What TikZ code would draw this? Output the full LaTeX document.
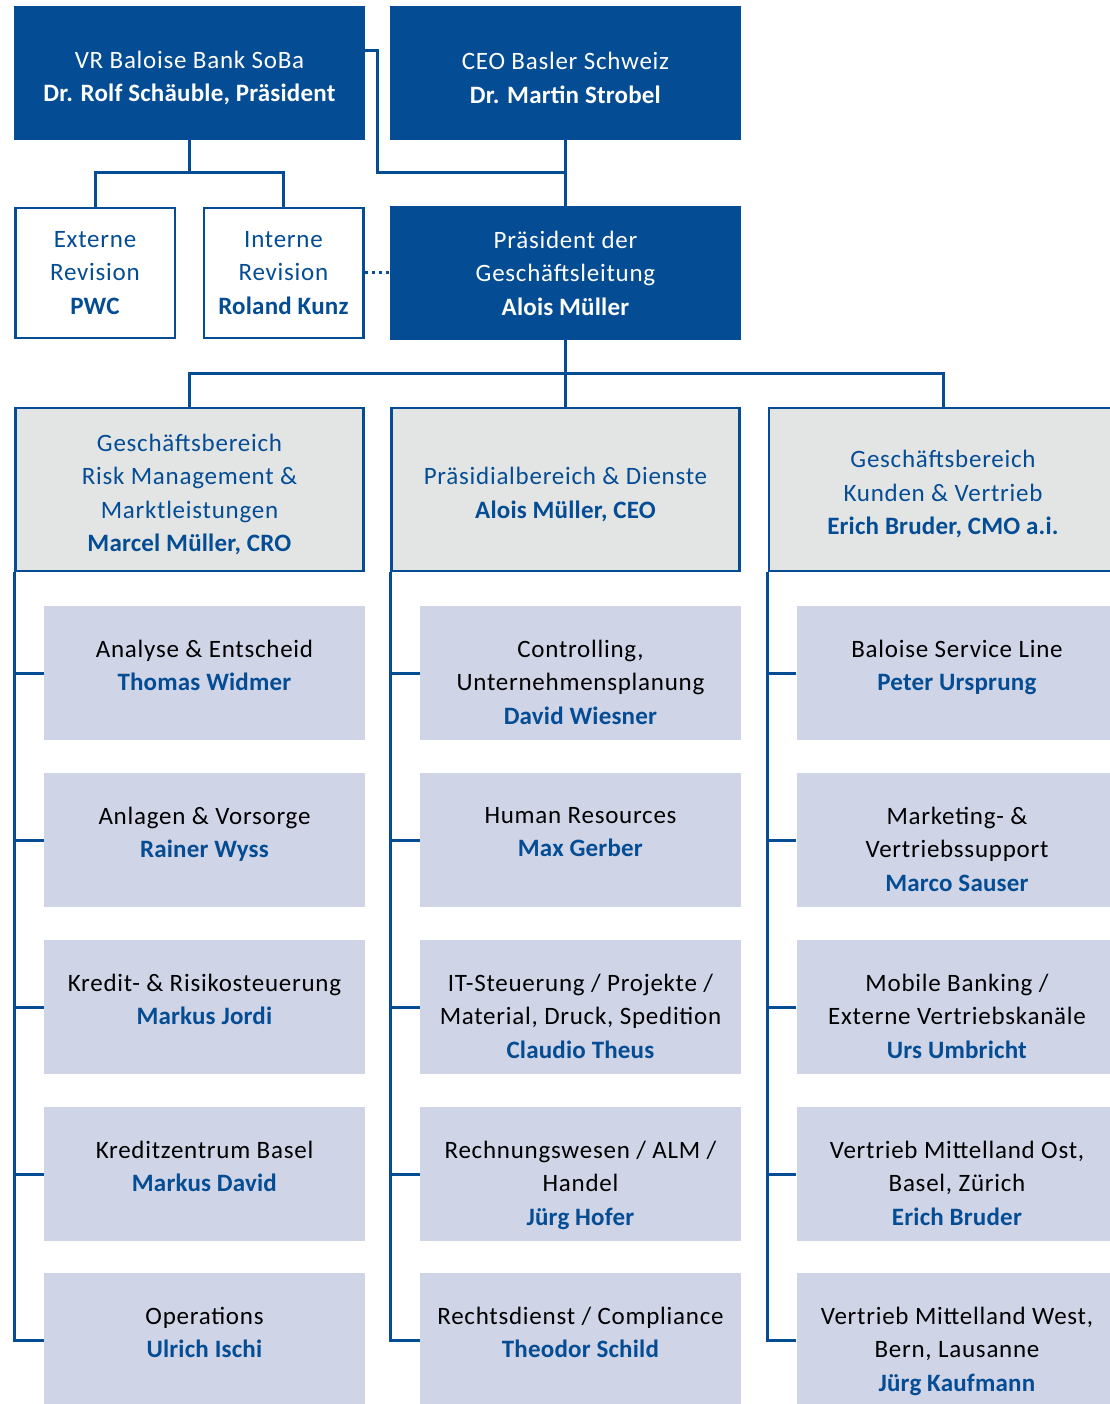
\documentclass[tikz,border=0pt]{standalone}
\usepackage{fontspec}
\setmainfont{Carlito}[LetterSpace=3.0,BoldFeatures={LetterSpace=0.8}]
\usetikzlibrary{positioning}
\definecolor{navy}{RGB}{4,76,147}
\definecolor{unitfill}{RGB}{207,212,231}
\definecolor{divfill}{RGB}{227,229,229}
\newcommand{\pname}[1]{\textcolor{navy}{\textbf{#1}}}
\newcommand{\lift}{\rule{0pt}{27pt}}

\tikzset{
  head/.style={fill=navy,text=white,minimum width=351pt,minimum height=134pt,inner sep=0pt,align=center},
  rev/.style={draw=navy,line width=2.5pt,fill=white,text=navy,minimum width=159.5pt,minimum height=129.5pt,inner sep=0pt,align=center},
  divbox/.style={draw=navy,line width=2.5pt,fill=divfill,text=navy,minimum width=348pt,minimum height=163pt,inner sep=0pt,align=center},
  unittext/.style={anchor=north,yshift=-34pt,align=center,inner sep=0pt},
  unit/.style={fill=unitfill,minimum width=321pt,minimum height=134pt,inner sep=0pt,label={[unittext]north:{#1}}},
  conn/.style={draw=navy,line width=3pt}
}

\begin{document}
\begin{tikzpicture}[x=1pt,y=-1pt,font=\fontsize{25}{33.5}\selectfont]
  \useasboundingbox (0,0) rectangle (1109,1404);

  % top level
  \node[head] (vr) at (189.5,73) {\lift VR Baloise Bank SoBa\\\textbf{Dr. Rolf Schäuble, Präsident}};
  \node[head] (ceo) at (565.5,73) {\lift CEO Basler Schweiz\\\textbf{Dr. Martin Strobel}};
  \node[rev] (ext) at (95,273) {Externe\\Revision\\\textbf{PWC}};
  \node[rev] (int) at (283.5,273) {Interne\\Revision\\\textbf{Roland Kunz}};
  \node[head] (pgl) at (565.5,273) {Präsident der\\Geschäftsleitung\\\textbf{Alois Müller}};

  \coordinate (jr) at (189.5,173);
  \coordinate (jv) at (377,173);
  \coordinate (jc) at (565.5,173);
  \coordinate (jd) at (565.5,373);

  \draw[conn] (vr.south) -- (jr);
  \draw[conn] (ext.north) |- (jr) -| (int.north);
  \draw[conn] ([yshift=-45pt]vr.north east) -| (jv) -- (jc);
  \draw[conn] (ceo.south) -- (pgl.north);
  \draw[conn,dash pattern=on 3pt off 4pt] (int.east) -- (pgl.west);

  % divisions
  \node[divbox] (rm) at (189.5,489.5) {\lift Geschäftsbereich\\Risk Management \&\\Marktleistungen\\\textbf{Marcel Müller, CRO}};
  \node[divbox] (pd) at (565.5,489.5) {\lift Präsidialbereich \& Dienste\\\textbf{Alois Müller, CEO}};
  \node[divbox] (kv) at (943,489.5) {\lift Geschäftsbereich\\Kunden \& Vertrieb\\\textbf{Erich Bruder, CMO a.i.}};

  \draw[conn] (pgl.south) -- (pd.north);
  \draw[conn] (rm.north) |- (jd) -| (kv.north);

  % units risk management
  \node[unit={Analyse \& Entscheid\\\pname{Thomas Widmer}}] (a1) at (204.5,673) {};
  \node[unit={Anlagen \& Vorsorge\\\pname{Rainer Wyss}}] (a2) at (204.5,840) {};
  \node[unit={Kredit- \& Risikosteuerung\\\pname{Markus Jordi}}] (a3) at (204.5,1007) {};
  \node[unit={Kreditzentrum Basel\\\pname{Markus David}}] (a4) at (204.5,1174) {};
  \node[unit={Operations\\\pname{Ulrich Ischi}}] (a5) at (204.5,1340) {};

  % units praesidialbereich
  \node[unit={Controlling,\\Unternehmensplanung\\\pname{David Wiesner}}] (b1) at (580.5,673) {};
  \node[unit={Human Resources\\\pname{Max Gerber}}] (b2) at (580.5,840) {};
  \node[unit={IT-Steuerung / Projekte /\\Material, Druck, Spedition\\\pname{Claudio Theus}}] (b3) at (580.5,1007) {};
  \node[unit={Rechnungswesen / ALM /\\Handel\\\pname{Jürg Hofer}}] (b4) at (580.5,1174) {};
  \node[unit={Rechtsdienst / Compliance\\\pname{Theodor Schild}}] (b5) at (580.5,1340) {};

  % units kunden
  \node[unit={Baloise Service Line\\\pname{Peter Ursprung}}] (c1) at (957,673) {};
  \node[unit={Marketing- \&\\Vertriebssupport\\\pname{Marco Sauser}}] (c2) at (957,840) {};
  \node[unit={Mobile Banking /\\Externe Vertriebskanäle\\\pname{Urs Umbricht}}] (c3) at (957,1007) {};
  \node[unit={Vertrieb Mittelland Ost,\\Basel, Zürich\\\pname{Erich Bruder}}] (c4) at (957,1174) {};
  \node[unit={Vertrieb Mittelland West,\\Bern, Lausanne\\\pname{Jürg Kaufmann}}] (c5) at (957,1340) {};

  % spines
  \draw[conn] (rm.south west) |- (a5.west);
  \draw[conn] (a1.west) -- (a1.west -| rm.west);
  \draw[conn] (a2.west) -- (a2.west -| rm.west);
  \draw[conn] (a3.west) -- (a3.west -| rm.west);
  \draw[conn] (a4.west) -- (a4.west -| rm.west);

  \draw[conn] (pd.south west) |- (b5.west);
  \draw[conn] (b1.west) -- (b1.west -| pd.west);
  \draw[conn] (b2.west) -- (b2.west -| pd.west);
  \draw[conn] (b3.west) -- (b3.west -| pd.west);
  \draw[conn] (b4.west) -- (b4.west -| pd.west);

  \draw[conn] (kv.south west) |- (c5.west);
  \draw[conn] (c1.west) -- (c1.west -| kv.west);
  \draw[conn] (c2.west) -- (c2.west -| kv.west);
  \draw[conn] (c3.west) -- (c3.west -| kv.west);
  \draw[conn] (c4.west) -- (c4.west -| kv.west);
\end{tikzpicture}
\end{document}
